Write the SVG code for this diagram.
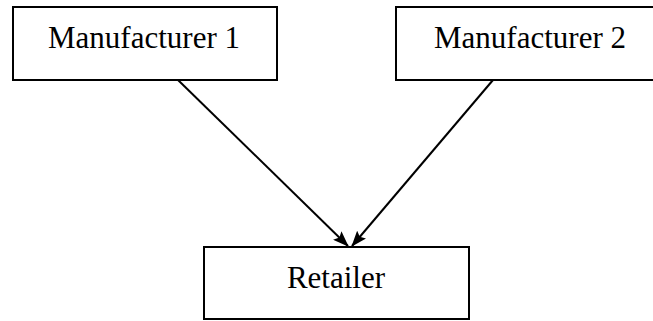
<svg xmlns="http://www.w3.org/2000/svg" width="653" height="321" viewBox="0 0 653 321">
<style>
.box{fill:#fff;stroke:#000;stroke-width:2}
.lbl{font-family:"Liberation Serif","Times New Roman",serif;font-size:31px;fill:#000;text-anchor:middle}
.conn{stroke:#000;stroke-width:2;fill:none}
</style>
<defs>
<marker id="ah" viewBox="0 0 16 12" refX="15" refY="6" markerWidth="16" markerHeight="12" markerUnits="userSpaceOnUse" orient="auto">
<path d="M0,0 L16,6 L0,12 L3,6 z" fill="#000"/>
</marker>
</defs>
<rect width="653" height="321" fill="#fff"/>
<g id="manufacturer1">
<rect class="box" x="13" y="7" width="264" height="73"/>
<text class="lbl" x="144" y="48">Manufacturer 1</text>
</g>
<g id="manufacturer2">
<rect class="box" x="396" y="7" width="262" height="73"/>
<text class="lbl" x="530" y="48">Manufacturer 2</text>
</g>
<g id="retailer">
<rect class="box" x="204" y="247" width="265" height="72"/>
<text class="lbl" x="336" y="288">Retailer</text>
</g>
<g id="connectors">
<line class="conn" x1="178" y1="80" x2="348" y2="246" marker-end="url(#ah)"/>
<line class="conn" x1="493" y1="80" x2="352" y2="246" marker-end="url(#ah)"/>
</g>
</svg>
